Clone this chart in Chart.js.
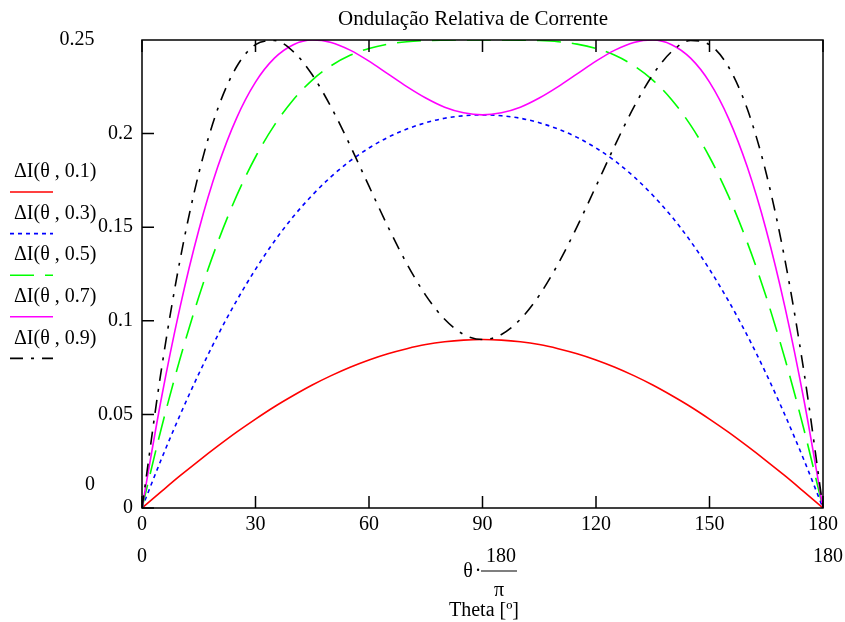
<!DOCTYPE html>
<html>
<head>
<meta charset="utf-8">
<script src="https://cdn.jsdelivr.net/npm/chart.js@4"></script>
<style>
html,body{margin:0;padding:0;background:#fff;}
#c{display:block;}
</style>
</head>
<body>
<canvas id="c" width="845" height="622"></canvas>
<script>
// ---- data ----
const theta = [0,5,10,15,20,25,30,35,40,45,50,55,60,65,70,75,80,85,90,95,100,105,110,115,120,125,130,135,140,145,150,155,160,165,170,175,180];
const dI_01 = [0,0.0086,0.0171,0.0252,0.0330,0.0405,0.0475,0.0541,0.0601,0.0657,0.0707,0.0752,0.0791,0.0824,0.0851,0.0873,0.0888,0.0897,0.0900,0.0897,0.0888,0.0873,0.0851,0.0824,0.0791,0.0752,0.0707,0.0657,0.0601,0.0541,0.0475,0.0405,0.0330,0.0252,0.0171,0.0086,0];
const dI_03 = [0,0.0255,0.0494,0.0716,0.0921,0.1107,0.1275,0.1425,0.1557,0.1671,0.1770,0.1854,0.1923,0.1980,0.2024,0.2058,0.2082,0.2095,0.2100,0.2095,0.2082,0.2058,0.2024,0.1980,0.1923,0.1854,0.1770,0.1671,0.1557,0.1425,0.1275,0.1107,0.0921,0.0716,0.0494,0.0255,0];
const dI_05 = [0,0.0417,0.0793,0.1127,0.1418,0.1667,0.1875,0.2045,0.2181,0.2286,0.2363,0.2418,0.2455,0.2478,0.2491,0.2497,0.2499,0.2500,0.2500,0.2500,0.2499,0.2497,0.2491,0.2478,0.2455,0.2418,0.2363,0.2286,0.2181,0.2045,0.1875,0.1667,0.1418,0.1127,0.0793,0.0417,0];
const dI_07 = [0,0.0573,0.1068,0.1484,0.1821,0.2083,0.2275,0.2403,0.2475,0.2500,0.2487,0.2446,0.2387,0.2319,0.2251,0.2190,0.2141,0.2111,0.2100,0.2111,0.2141,0.2190,0.2251,0.2319,0.2387,0.2446,0.2487,0.2500,0.2475,0.2403,0.2275,0.2083,0.1821,0.1484,0.1068,0.0573,0];
const dI_09 = [0,0.0723,0.1319,0.1787,0.2131,0.2357,0.2475,0.2497,0.2438,0.2314,0.2141,0.1937,0.1719,0.1503,0.1305,0.1136,0.1008,0.0927,0.0900,0.0927,0.1008,0.1136,0.1305,0.1503,0.1719,0.1937,0.2141,0.2314,0.2438,0.2497,0.2475,0.2357,0.2131,0.1787,0.1319,0.0723,0];
const seriesLabels = ["ΔI(θ , 0.1)","ΔI(θ , 0.3)","ΔI(θ , 0.5)","ΔI(θ , 0.7)","ΔI(θ , 0.9)"];
const xTicks = [0,30,60,90,120,150,180];
const yTicks = [0,0.05,0.1,0.15,0.2];
const titleText = "Ondulação Relativa de Corrente";
const xAxisTitle = "Theta [º]";

const FONT = "'Liberation Serif', 'Times New Roman', serif";
const colors = ["#ff0000","#0000ff","#00ff00","#ff00ff","#000000"];
const dashes = [[], [4,4], [24,11], [], [13,8,3,8]];
const seriesData = [dI_01,dI_03,dI_05,dI_07,dI_09];

const datasets = seriesData.map((arr,i)=>({
  label: seriesLabels[i],
  data: theta.map((t,k)=>({x:t,y:arr[k]})),
  borderColor: colors[i],
  borderWidth: 1.6,
  borderDash: dashes[i],
  pointRadius: 0,
  fill: false,
  cubicInterpolationMode: 'monotone',
  order: 5-i
}));

const decor = {
  id:'decor',
  afterDraw(chart){
    const ctx = chart.ctx, a = chart.chartArea;
    const xs = chart.scales.x, ys = chart.scales.y;
    ctx.save();
    ctx.strokeStyle = '#000';
    ctx.lineWidth = 1.5;
    ctx.setLineDash([]);
    ctx.strokeRect(a.left, a.top, a.right-a.left, a.bottom-a.top);
    const TL = 12;
    ctx.beginPath();
    xTicks.forEach(v=>{
      const px = xs.getPixelForValue(v);
      ctx.moveTo(px, a.bottom); ctx.lineTo(px, a.bottom-TL);
      ctx.moveTo(px, a.top); ctx.lineTo(px, a.top+TL);
    });
    yTicks.forEach(v=>{
      const py = ys.getPixelForValue(v);
      ctx.moveTo(a.left, py); ctx.lineTo(a.left+TL, py);
    });
    ctx.stroke();

    ctx.fillStyle = '#000';
    ctx.textBaseline = 'middle';
    ctx.font = "20px " + FONT;
    // axis limit labels
    ctx.textAlign = 'center';
    ctx.fillText("0.25", 77, ys.getPixelForValue(0.25));
    ctx.fillText("0", 90, 485);
    ctx.fillText("0", xs.getPixelForValue(0), 557);
    ctx.fillText("180", xs.getPixelForValue(180)+5, 557);
    // x axis expression
    ctx.fillText("θ", 468, 572);
    ctx.fillText("·", 478, 572);
    ctx.fillText("180", 501, 557);
    ctx.fillText("π", 499, 591);
    ctx.fillText(xAxisTitle, 484, 611);
    // title
    ctx.font = "21px " + FONT;
    ctx.fillText(titleText, 473, 19);
    ctx.font = "20px " + FONT;
    ctx.lineWidth = 1.2;
    ctx.beginPath(); ctx.moveTo(481, 571); ctx.lineTo(517, 571); ctx.stroke();
    // legend
    const ly0 = 172, step = 41.6;
    seriesLabels.forEach((lab,i)=>{
      const ly = ly0 + i*step;
      ctx.textAlign = 'left';
      ctx.fillStyle = '#000';
      ctx.fillText(lab, 14, ly);
      ctx.strokeStyle = colors[i];
      ctx.lineWidth = 1.6;
      ctx.setLineDash(dashes[i]);
      ctx.beginPath(); ctx.moveTo(10, ly+20); ctx.lineTo(53, ly+20); ctx.stroke();
      ctx.setLineDash([]);
    });
    ctx.restore();
  }
};

new Chart(document.getElementById('c'), {
  type:'line',
  data:{datasets},
  options:{
    responsive:false,
    animation:false,
    devicePixelRatio:1,
    layout:{padding:{left:0,top:40,right:22,bottom:0}},
    plugins:{legend:{display:false},title:{display:false},tooltip:{enabled:false}},
    scales:{
      x:{
        type:'linear', min:0, max:180,
        afterBuildTicks(s){ s.ticks = xTicks.map(v=>({value:v})); },
        afterFit(s){ s.height = 622-508; },
        grid:{display:false, drawTicks:false, tickLength:0}, border:{display:false},
        ticks:{color:'#000', font:{family:FONT,size:20}, padding:5, maxRotation:0, autoSkip:false,
          callback:v=>String(v)}
      },
      y:{
        type:'linear', min:0, max:0.25,
        afterBuildTicks(s){ s.ticks = yTicks.map(v=>({value:v})); },
        afterFit(s){ s.width = 142; },
        grid:{display:false, drawTicks:false, tickLength:0}, border:{display:false},
        ticks:{color:'#000', font:{family:FONT,size:20}, padding:9, autoSkip:false,
          callback:v=>String(Number(v.toFixed(2)))}
      }
    }
  },
  plugins:[decor]
});
</script>
</body>
</html>
